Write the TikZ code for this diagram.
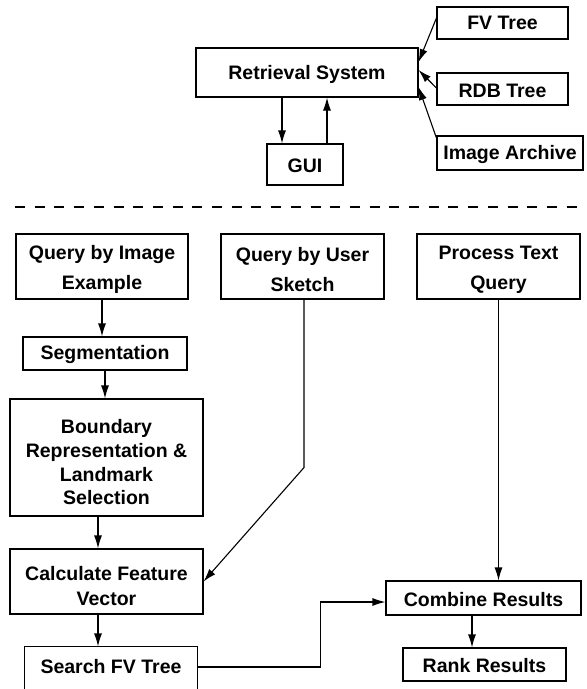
\documentclass[tikz,border=0pt]{standalone}
\usepackage{fontspec}
\setmainfont{Liberation Sans}
\usetikzlibrary{arrows.meta}
\begin{document}
\begin{tikzpicture}[x=1pt,y=-1pt,
  box/.style={draw, line width=1.1pt, inner sep=0pt, align=center,
    font=\bfseries\fontsize{19.5}{23.5}\selectfont},
  arr/.style={line width=1.1pt, -{Latex[length=13pt,width=8pt]}},
  ln/.style={line width=1.1pt}]
\fill[white] (0,0) rectangle (587,689);
\clip (0,0) rectangle (587,689);
% top part
\node[box, minimum width=131pt, minimum height=32pt] (fv) at (502.5,23) {FV Tree};
\node[box, minimum width=222pt, minimum height=49pt] (ret) at (307,72.5) {\rule{0pt}{19pt}Retrieval System};
\node[box, minimum width=131pt, minimum height=32pt] (rdb) at (502.5,89) {\rule{0pt}{17pt}RDB Tree};
\node[box, minimum width=76pt, minimum height=41pt] (gui) at (305,164.5) {\rule{0pt}{17pt}GUI};
\node[box, minimum width=146pt, minimum height=34pt] (ia) at (510,153) {\rule{0pt}{17pt}Image Archive};
\draw[arr] ([yshift=5pt]fv.west) -- ([yshift=10.5pt]ret.east);
\draw[arr] ([yshift=1pt]rdb.west) -- ([yshift=2.5pt]ret.east);
\draw[arr] ([yshift=15pt]ia.west) -- ([yshift=-14.5pt]ret.east);
\draw[arr] ([xshift=-25pt]ret.south) -- ([xshift=-25pt]ret.south |- gui.north);
\draw[arr] ([xshift=22pt]gui.north) -- ([xshift=22pt]gui.north |- ret.south);
% separator
\draw[line width=1.3pt, dash pattern=on 10pt off 9.7pt] (15,207) -- (577,207);
% bottom part
\node[box, minimum width=172pt, minimum height=65pt,
  font=\bfseries\fontsize{19.5}{30}\selectfont] (qbie) at (102,266.5) {\rule{0pt}{20pt}Query by Image\\Example};
\node[box, minimum width=163pt, minimum height=65pt,
  font=\bfseries\fontsize{19.5}{30}\selectfont] (sk) at (302.5,266.5) {\rule{0pt}{20pt}Query by User\\Sketch};
\node[box, minimum width=163pt, minimum height=65pt,
  font=\bfseries\fontsize{19.5}{30}\selectfont] (pt) at (498.5,266.5) {\rule{0pt}{20pt}Process Text\\Query};
\node[box, minimum width=164pt, minimum height=33pt] (seg) at (105,353.5) {\rule{0pt}{16pt}Segmentation};
\node[box, minimum width=193pt, minimum height=117pt,
  font=\bfseries\fontsize{19.5}{23.7}\selectfont] (bnd) at (106.5,457.5) {\rule{0pt}{24pt}Boundary\\Representation \&\\Landmark\\Selection};
\node[box, minimum width=193pt, minimum height=65pt,
  font=\bfseries\fontsize{19.5}{25}\selectfont] (calc) at (106.5,581.5) {\rule{0pt}{24pt}Calculate Feature\\Vector};
\node[box, draw=none, minimum width=172pt, minimum height=40pt] (search) at (111,667) {Search FV Tree};
\draw[ln] (search.south west) -- (search.north west) -- (search.north east) -- (search.south east);
\draw[ln] (search.south west) -- ++(0,20);
\draw[ln] (search.south east) -- ++(0,20);
\node[box, minimum width=195pt, minimum height=34pt] (comb) at (483.5,598) {\rule{0pt}{17pt}Combine Results};
\node[box, minimum width=163pt, minimum height=33pt] (rank) at (484.5,664.5) {\rule{0pt}{17pt}Rank Results};
\draw[arr] (qbie.south) -- (qbie.south |- seg.north);
\draw[arr] (seg.south) -- (seg.south |- bnd.north);
\draw[arr] ([xshift=-8.5pt]bnd.south) -- ([xshift=-8.5pt]bnd.south |- calc.north);
\draw[arr] ([xshift=-8.5pt]calc.south) -- ([xshift=-8.5pt]calc.south |- search.north);
\draw[arr] ([xshift=1.5pt]sk.south) -- ++(0,168) -- (calc.east);
\draw[arr] (pt.south) -- (pt.south |- comb.north);
\draw[arr] ([xshift=-11.5pt]comb.south) -- ([xshift=-11.5pt]comb.south |- rank.north);
\draw[arr] (search.east) -- ++(123,0) |- ([yshift=-4pt]comb.west);
\end{tikzpicture}
\end{document}
